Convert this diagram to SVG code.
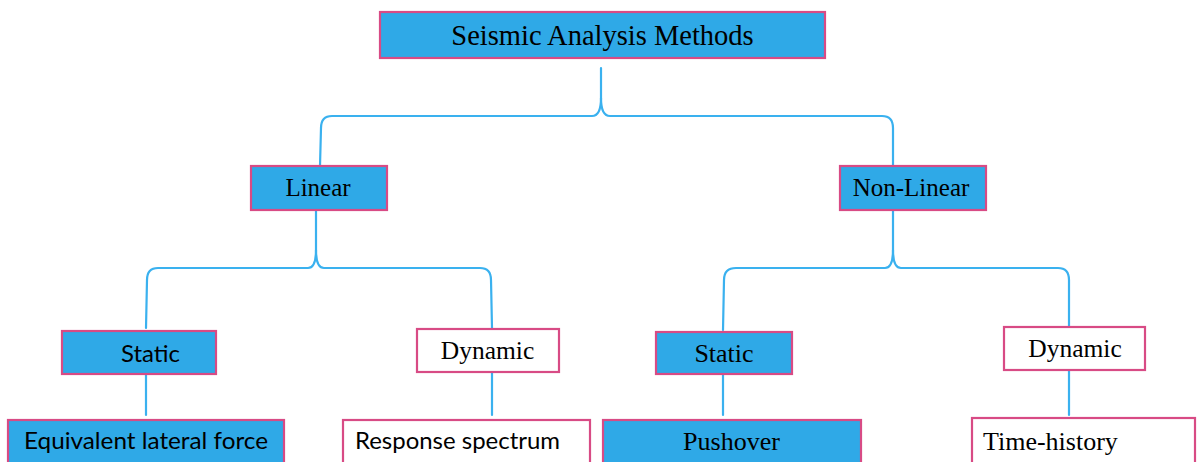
<svg xmlns="http://www.w3.org/2000/svg" width="1197" height="462" viewBox="0 0 1197 462">
<style>
.box{stroke:#d84b85;stroke-width:2.2}
.fill{fill:#2fa9e7}
.white{fill:#ffffff}
.serif{font-family:"Liberation Serif","Times New Roman",serif;fill:#000}
.sans{font-family:Lato,"Liberation Sans",sans-serif;fill:#000}
.conn{fill:none;stroke:#3ab1ef;stroke-width:2.2;stroke-linecap:round}
</style>
<rect width="1197" height="462" fill="#ffffff"/>
<g id="connectors">
<path class="conn" d="M601 68 L601 98 Q601 116 592 116 L332 116 Q321 116 321 128 L320 166"/>
<path class="conn" d="M601 98 Q601 116 610 116 L882 116 Q893 116 893 128 L893 166"/>
<path class="conn" d="M316 210 L316 250 Q316 268 308 268 L158 268 Q147 268 147 280 L146 328"/>
<path class="conn" d="M316 250 Q316 268 324 268 L480 268 Q491 268 491 280 L492 328"/>
<path class="conn" d="M893 210 L893 250 Q893 268 885 268 L736 268 Q724 268 724 280 L723 330"/>
<path class="conn" d="M893 250 Q893 268 901 268 L1058 268 Q1069 268 1069 280 L1069 326"/>
<path class="conn" d="M146 375 L146 415"/>
<path class="conn" d="M492 372 L492 415"/>
<path class="conn" d="M723 375 L723 415"/>
<path class="conn" d="M1069 370 L1069 415"/>
</g>
<g id="root">
<rect class="box fill" x="380" y="12" width="445" height="46"/>
<text class="serif" x="602.5" y="45" font-size="28.5" text-anchor="middle">Seismic Analysis Methods</text>
</g>
<g id="linear">
<rect class="box fill" x="251" y="166" width="136" height="44"/>
<text class="serif" x="318" y="196" font-size="25" text-anchor="middle">Linear</text>
</g>
<g id="nonlinear">
<rect class="box fill" x="840" y="166" width="146" height="44"/>
<text class="serif" x="911" y="196" font-size="25" text-anchor="middle">Non-Linear</text>
</g>
<g id="static-linear">
<rect class="box fill" x="62" y="331" width="154" height="43"/>
<text class="sans" x="150.5" y="362" font-size="24" text-anchor="middle" textLength="59" lengthAdjust="spacingAndGlyphs">Static</text>
</g>
<g id="dynamic-linear">
<rect class="box white" x="417" y="329" width="142" height="43"/>
<text class="serif" x="487.5" y="359" font-size="25.5" text-anchor="middle">Dynamic</text>
</g>
<g id="static-nonlinear">
<rect class="box fill" x="656" y="332" width="136" height="42"/>
<text class="serif" x="724" y="362" font-size="26" text-anchor="middle">Static</text>
</g>
<g id="dynamic-nonlinear">
<rect class="box white" x="1004" y="327" width="141" height="43"/>
<text class="serif" x="1075" y="357" font-size="25.5" text-anchor="middle">Dynamic</text>
</g>
<g id="equivalent">
<rect class="box fill" x="8" y="420" width="276" height="50"/>
<text class="sans" x="24" y="449" font-size="24" textLength="244" lengthAdjust="spacingAndGlyphs">Equivalent lateral force</text>
</g>
<g id="response">
<rect class="box white" x="343" y="420" width="247" height="50"/>
<text class="sans" x="355" y="449" font-size="24" textLength="205" lengthAdjust="spacingAndGlyphs">Response spectrum</text>
</g>
<g id="pushover">
<rect class="box fill" x="603" y="420" width="258" height="50"/>
<text class="serif" x="731.5" y="450" font-size="26" text-anchor="middle">Pushover</text>
</g>
<g id="timehistory">
<rect class="box white" x="972" y="418" width="223" height="52"/>
<text class="serif" x="983" y="450" font-size="26">Time-history</text>
</g>
</svg>
